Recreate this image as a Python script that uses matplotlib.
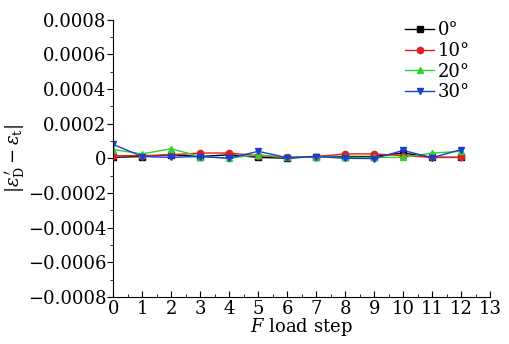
import matplotlib
matplotlib.use("Agg")
import matplotlib.pyplot as plt
from matplotlib.ticker import MultipleLocator

plt.rcParams['font.family'] = ['DejaVu Serif']
plt.rcParams['mathtext.fontset'] = 'dejavuserif'

steps = list(range(13))
labels = ['0°', '10°', '20°', '30°']
s0 = [0.5e-5, 1e-5, 2e-5, 1e-5, 2e-5, 0.5e-5, 0.0, 1e-5, 1e-5, 1e-5, 3e-5, 0.5e-5, 0.5e-5]
s10 = [1.5e-5, 1.5e-5, 2e-5, 3e-5, 3e-5, 1.5e-5, 0.5e-5, 1e-5, 2.5e-5, 2.5e-5, 1.5e-5, 0.5e-5, 0.5e-5]
s20 = [5e-5, 2.5e-5, 5.5e-5, 1e-5, 0.0, 2e-5, 0.5e-5, 1e-5, 0.5e-5, 0.5e-5, 0.5e-5, 3e-5, 4e-5]
s30 = [8e-5, 1e-5, 0.5e-5, 1e-5, 0.0, 4e-5, 0.3e-5, 1e-5, 0.0, -0.2e-5, 4.5e-5, 0.3e-5, 5e-5]
series = [s0, s10, s20, s30]
colors = ['black', '#e02020', '#30d030', '#1a3fd0']
markers = ['s', 'o', '^', 'v']

fig = plt.figure(figsize=(5.1, 3.44), dpi=100)
ax = fig.add_axes([0.222, 0.137, 0.739, 0.806])
for y, c, m, l in zip(series, colors, markers, labels):
    ax.plot(steps, y, color=c, marker=m, markersize=4.5, linewidth=1, label=l)

ax.set_xlim(0, 13)
ax.set_ylim(-0.0008, 0.0008)
ax.xaxis.set_major_locator(MultipleLocator(1))
ax.xaxis.set_minor_locator(MultipleLocator(0.5))
ax.yaxis.set_major_locator(MultipleLocator(0.0002))
ax.yaxis.set_minor_locator(MultipleLocator(0.0001))
ax.spines['top'].set_visible(False)
ax.spines['right'].set_visible(False)
ax.tick_params(axis='x', which='both', direction='in', labelsize=13, pad=2)
ax.tick_params(axis='y', which='both', direction='out', labelsize=13, pad=1)
ax.tick_params(which='major', length=4)
ax.tick_params(which='minor', length=2)
ax.set_yticks([-0.0008, -0.0006, -0.0004, -0.0002, 0, 0.0002, 0.0004, 0.0006, 0.0008])
ax.set_yticklabels(['\u22120.0008', '\u22120.0006', '\u22120.0004', '\u22120.0002', '0',
                    '0.0002', '0.0004', '0.0006', '0.0008'])
ax.set_xlabel(r'$F$ load step', fontsize=13, labelpad=-1)
ax.set_ylabel(r"$|\varepsilon_{\rm D}^{\,\prime}-\varepsilon_{\rm t}|$", fontsize=13, labelpad=0)
ax.legend(loc='upper right', bbox_to_anchor=(0.965, 1.02), frameon=False, fontsize=13,
          handlelength=1.6, handletextpad=0.2, labelspacing=0.15, borderaxespad=0.0)
fig.savefig('out.png', dpi=100)
